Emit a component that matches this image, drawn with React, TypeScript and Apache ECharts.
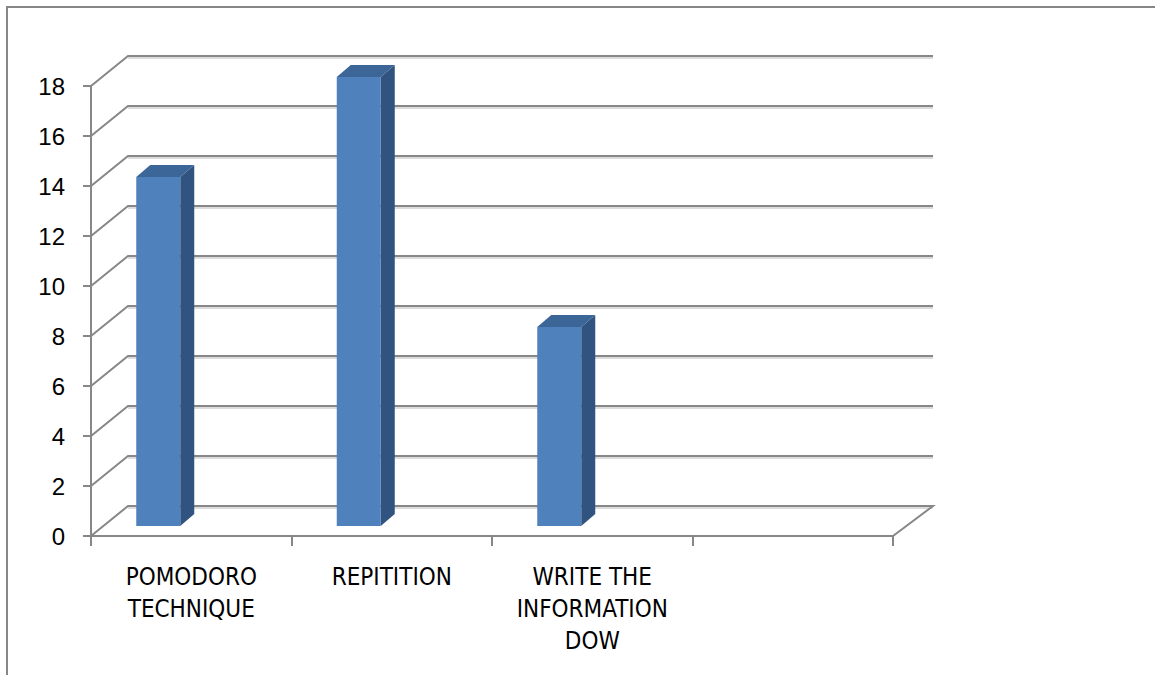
import React, { useEffect, useRef } from "react";
import * as echarts from "echarts";

// Chart data
const categories = ["POMODORO\nTECHNIQUE", "REPITITION", "WRITE THE\nINFORMATION\nDOW", ""];
const values = [14, 18, 8];
const yTicks = [0, 2, 4, 6, 8, 10, 12, 14, 16, 18];

const GRID_COLOR = "#878787";
const SHADOW_COLOR = "#dcdcdc";
const FRONT = "#4F81BD";
const SIDE = "#31537F";
const TOP = "#3C6698";

// perspective offsets of the back wall
const WALL_DX_LEFT = 37;
const WALL_DX_RIGHT = 40;
const WALL_DY = -30;

export default function App() {
  const ref = useRef<HTMLDivElement>(null);

  useEffect(() => {
    if (!ref.current) return;
    const chart = echarts.init(ref.current, null, { renderer: "svg" });
    const lastIdx = categories.length - 1;

    const option: any = {
      animation: false,
      backgroundColor: "#ffffff",
      grid: { left: 91, right: 262, top: 86, bottom: 139, containLabel: false },
      graphic: [
        {
          type: "rect",
          shape: { x: 7, y: 7, width: 1170, height: 690 },
          style: { fill: "none", stroke: GRID_COLOR, lineWidth: 2 },
          silent: true,
        },
      ],
      xAxis: {
        type: "category",
        data: categories,
        axisLine: { show: true, lineStyle: { color: GRID_COLOR, width: 2 } },
        axisTick: { show: true, length: 10, interval: 0, lineStyle: { color: GRID_COLOR, width: 2 } },
        axisLabel: {
          interval: 0,
          margin: 25,
          color: "#000",
          fontSize: 24,
          lineHeight: 32,
          fontFamily: "'Liberation Sans Narrow', 'DejaVu Sans Condensed', 'Liberation Sans', sans-serif",
        },
        splitLine: { show: false },
      },
      yAxis: {
        type: "value",
        min: 0,
        max: 18,
        interval: 2,
        axisLine: { show: true, lineStyle: { color: GRID_COLOR, width: 2 } },
        axisTick: { show: true, length: 8, lineStyle: { color: GRID_COLOR, width: 2 } },
        axisLabel: {
          margin: 26,
          color: "#000",
          fontSize: 24,
          fontFamily: "'Liberation Sans', sans-serif",
        },
        splitLine: { show: false },
      },
      series: [
        {
          // back wall gridlines and floor
          type: "custom",
          silent: true,
          z: 1,
          data: yTicks.map((v) => [0, v]),
          encode: { x: 0, y: 1 },
          renderItem: (params: any, api: any) => {
            const v = api.value(1);
            const bw = api.size([1, 0])[0];
            const p0 = api.coord([0, v]);
            const pl = api.coord([lastIdx, v]);
            const x0 = p0[0] - bw / 2;
            const xr = pl[0] + bw / 2;
            const y = p0[1];
            const children: any[] = [
              {
                type: "polyline",
                shape: { points: [[x0 + WALL_DX_LEFT, y + WALL_DY + 2], [xr + WALL_DX_RIGHT, y + WALL_DY + 2]] },
                style: { stroke: SHADOW_COLOR, lineWidth: 2, fill: "none" },
              },
              {
                type: "polyline",
                shape: {
                  points:
                    v === 0
                      ? [
                          [x0, y],
                          [x0 + WALL_DX_LEFT, y + WALL_DY],
                          [xr + WALL_DX_RIGHT, y + WALL_DY],
                          [xr, y],
                        ]
                      : [
                          [x0, y],
                          [x0 + WALL_DX_LEFT, y + WALL_DY],
                          [xr + WALL_DX_RIGHT, y + WALL_DY],
                        ],
                },
                style: { stroke: GRID_COLOR, lineWidth: 2, fill: "none" },
              },
            ];
            return { type: "group", children };
          },
        },
        {
          // 3D columns
          type: "custom",
          z: 3,
          data: values.map((v, i) => [i, v]),
          encode: { x: 0, y: 1 },
          renderItem: (params: any, api: any) => {
            const idx = api.value(0);
            const v = api.value(1);
            const top = api.coord([idx, v]);
            const base = api.coord([idx, 0]);
            const xl = top[0] - 55;
            const xr = top[0] - 11;
            const yt = top[1] - 9;
            const yb = base[1] - 10;
            const dx = 14;
            const dy = -12;
            return {
              type: "group",
              children: [
                {
                  type: "polygon",
                  shape: { points: [[xr, yt], [xr + dx, yt + dy], [xr + dx, yb + dy], [xr, yb]] },
                  style: { fill: SIDE },
                },
                {
                  type: "polygon",
                  shape: { points: [[xl, yt], [xl + dx, yt + dy], [xr + dx, yt + dy], [xr, yt]] },
                  style: { fill: TOP },
                },
                {
                  type: "rect",
                  shape: { x: xl, y: yt, width: xr - xl, height: yb - yt },
                  style: { fill: FRONT },
                },
              ],
            };
          },
        },
      ],
    };

    chart.setOption(option);
    return () => chart.dispose();
  }, []);

  return (
    <div
      ref={ref}
      style={{ position: "fixed", left: 0, top: 0, width: 1155, height: 675, background: "#fff" }}
    />
  );
}
